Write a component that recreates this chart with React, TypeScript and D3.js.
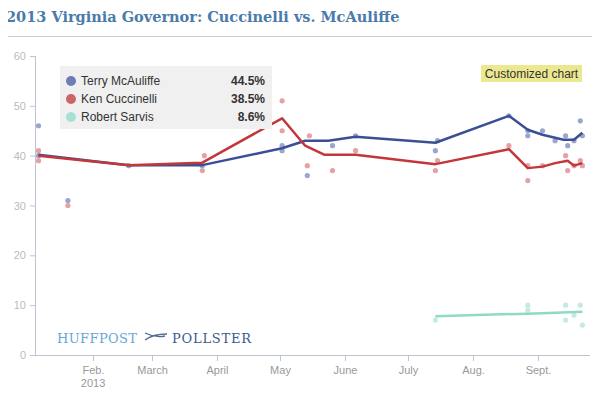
import React, { useEffect, useRef } from "react";
import * as d3 from "d3";

const candidates = ["Terry McAuliffe", "Ken Cuccinelli", "Robert Sarvis"];
const latest = ["44.5%", "38.5%", "8.6%"];
const lineColors = ["#3a4f95", "#c2373a", "#8fd9c6"];
const dotColors = ["#8f9cc8", "#e3979a", "#bde9dd"];

const yTicks = [0, 10, 20, 30, 40, 50, 60];
const monthTicks = ["2013-02-01", "2013-03-01", "2013-04-01", "2013-05-01", "2013-06-01", "2013-07-01", "2013-08-01", "2013-09-01"];
const monthLabels = ["Feb.", "March", "April", "May", "June", "July", "Aug.", "Sept."];

const mcauliffeTrend: [string, number][] = [
  ["2013-01-06", 40.2], ["2013-02-18", 38.1], ["2013-03-25", 38.1], ["2013-05-02", 41.5],
  ["2013-05-13", 43], ["2013-05-24", 43], ["2013-06-06", 43.8], ["2013-07-14", 42.6],
  ["2013-08-18", 48], ["2013-08-27", 45.2], ["2013-09-03", 44.2], ["2013-09-13", 43.2],
  ["2013-09-18", 43.2], ["2013-09-22", 44.6],
];
const cuccinelliTrend: [string, number][] = [
  ["2013-01-06", 40], ["2013-02-18", 38.1], ["2013-03-25", 38.6], ["2013-05-02", 47.5],
  ["2013-05-13", 42], ["2013-05-22", 40.2], ["2013-06-06", 40.2], ["2013-07-14", 38.3],
  ["2013-08-18", 41.3], ["2013-08-27", 37.5], ["2013-09-03", 37.8], ["2013-09-09", 38.5],
  ["2013-09-15", 39], ["2013-09-18", 38], ["2013-09-22", 38.5],
];
const sarvisTrend: [string, number][] = [
  ["2013-07-14", 7.8], ["2013-08-27", 8.3], ["2013-09-22", 8.7],
];

const mcauliffePolls: [string, number][] = [
  ["2013-01-06", 46], ["2013-01-06", 40], ["2013-01-20", 31], ["2013-02-18", 38], ["2013-03-25", 38],
  ["2013-05-02", 42], ["2013-05-02", 41], ["2013-05-14", 36], ["2013-05-26", 42], ["2013-06-06", 44],
  ["2013-07-14", 41], ["2013-07-15", 43], ["2013-08-18", 48], ["2013-08-27", 45], ["2013-08-27", 44],
  ["2013-09-03", 45], ["2013-09-09", 43], ["2013-09-14", 44], ["2013-09-15", 42], ["2013-09-18", 43],
  ["2013-09-21", 47], ["2013-09-22", 44],
];
const cuccinelliPolls: [string, number][] = [
  ["2013-01-06", 41], ["2013-01-06", 39], ["2013-01-20", 30], ["2013-03-25", 37], ["2013-03-26", 40],
  ["2013-05-02", 51], ["2013-05-02", 45], ["2013-05-14", 38], ["2013-05-15", 44], ["2013-05-26", 37],
  ["2013-06-06", 41], ["2013-07-14", 37], ["2013-07-15", 39], ["2013-08-18", 42], ["2013-08-27", 38],
  ["2013-08-27", 35], ["2013-09-03", 38], ["2013-09-14", 40], ["2013-09-15", 37], ["2013-09-18", 38],
  ["2013-09-21", 39], ["2013-09-22", 38],
];
const sarvisPolls: [string, number][] = [
  ["2013-07-14", 7], ["2013-08-27", 10], ["2013-08-27", 9], ["2013-09-14", 10], ["2013-09-14", 7],
  ["2013-09-18", 8], ["2013-09-21", 10], ["2013-09-22", 6],
];

const App: React.FC = () => {
  const svgRef = useRef<SVGSVGElement | null>(null);

  useEffect(() => {
    const svg = d3.select(svgRef.current);
    svg.selectAll("*").remove();
    const w = 600, h = 400;
    const parse = d3.timeParse("%Y-%m-%d");
    const font = "Arial, 'Liberation Sans', sans-serif";
    const serif = "Georgia, 'DejaVu Serif', serif";

    const x = d3.scaleTime()
      .domain([parse("2013-01-01")!, parse("2013-10-01")!])
      .range([28, 28 + 273 * 2.1]);
    const y = d3.scaleLinear().domain([0, 60]).range([355, 56]);

    // frame
    svg.append("rect").attr("x", 0.5).attr("y", 0.5).attr("width", w - 1).attr("height", h - 1)
      .attr("fill", "#fff").attr("stroke", "#aaa");
    svg.append("line").attr("x1", 0).attr("x2", w).attr("y1", 36.5).attr("y2", 36.5).attr("stroke", "#ccc");
    svg.append("text").attr("x", 6).attr("y", 22).attr("font-family", serif).attr("font-weight", "bold")
      .attr("font-size", 14.5).attr("fill", "#4a7bab").text("2013 Virginia Governor: Cuccinelli vs. McAuliffe");

    // y axis
    svg.append("line").attr("x1", 35.5).attr("x2", 35.5).attr("y1", y(60)).attr("y2", y(0)).attr("stroke", "#bcc4d0");
    yTicks.forEach(t => {
      svg.append("line").attr("x1", 30).attr("x2", 35).attr("y1", y(t) + 0.5).attr("y2", y(t) + 0.5).attr("stroke", "#bcc4d0");
      svg.append("text").attr("x", 26).attr("y", y(t) + 4).attr("text-anchor", "end")
        .attr("font-family", font).attr("font-size", 11).attr("fill", "#bbb").text(t);
    });

    // x axis
    svg.append("line").attr("x1", 35).attr("x2", 590).attr("y1", 355.5).attr("y2", 355.5).attr("stroke", "#bcc4d0");
    monthTicks.forEach((m, i) => {
      const px = Math.round(x(parse(m)!)) + 0.5;
      svg.append("line").attr("x1", px).attr("x2", px).attr("y1", 355).attr("y2", 361).attr("stroke", "#bcc4d0");
      svg.append("text").attr("x", px).attr("y", 374).attr("text-anchor", "middle")
        .attr("font-family", font).attr("font-size", 11).attr("fill", "#999").text(monthLabels[i]);
    });
    svg.append("text").attr("x", x(parse(monthTicks[0])!)).attr("y", 387).attr("text-anchor", "middle")
      .attr("font-family", font).attr("font-size", 11).attr("fill", "#999").text("2013");

    // logo
    svg.append("text").attr("x", 57).attr("y", 343).attr("font-family", serif)
      .attr("font-size", 13).attr("textLength", 80).attr("fill", "#6aa6d6").text("HUFFPOST");
    svg.append("path").attr("d", "M145,333 q10,5 20,3 M145,340 q8,-6 22,-6").attr("fill", "none").attr("stroke", "#4a6a90").attr("stroke-width", 1.3);
    svg.append("text").attr("x", 172).attr("y", 343).attr("font-family", serif)
      .attr("font-size", 13).attr("textLength", 79).attr("fill", "#3d5a8f").text("POLLSTER");

    const polls = [mcauliffePolls, cuccinelliPolls, sarvisPolls];
    const trends = [mcauliffeTrend, cuccinelliTrend, sarvisTrend];
    const line = d3.line<[string, number]>().x(d => x(parse(d[0])!)).y(d => y(d[1]));

    polls.forEach((p, i) => {
      svg.append("g").selectAll("circle").data(p).enter().append("circle")
        .attr("cx", d => x(parse(d[0])!)).attr("cy", d => y(d[1])).attr("r", 2.6)
        .attr("fill", dotColors[i]).attr("opacity", 0.9);
    });
    trends.forEach((t, i) => {
      svg.append("path").datum(t).attr("d", line).attr("fill", "none")
        .attr("stroke", lineColors[i]).attr("stroke-width", 2.5).attr("stroke-linejoin", "round");
    });

    // legend
    const lg = svg.append("g");
    lg.append("rect").attr("x", 60).attr("y", 66).attr("width", 212).attr("height", 63).attr("fill", "#f0f0f0");
    candidates.forEach((c, i) => {
      const cy = 81 + i * 18;
      lg.append("circle").attr("cx", 71).attr("cy", cy).attr("r", 5).attr("fill", ["#6d7db5", "#cc6666", "#a8e0d4"][i]);
      lg.append("text").attr("x", 81).attr("y", cy + 4).attr("font-family", font).attr("font-size", 12)
        .attr("fill", "#333").text(c);
      lg.append("text").attr("x", 265).attr("y", cy + 4).attr("text-anchor", "end").attr("font-family", font)
        .attr("font-size", 12).attr("font-weight", "bold").attr("fill", "#333").text(latest[i]);
    });

    svg.append("rect").attr("x", 481).attr("y", 65).attr("width", 101).attr("height", 17).attr("fill", "#ece88f");
    svg.append("text").attr("x", 531.5).attr("y", 78).attr("text-anchor", "middle").attr("font-family", font)
      .attr("font-size", 12).attr("fill", "#333").text("Customized chart");
  }, []);

  return (
    <div style={{ width: 600, height: 400, margin: -8 }}>
      <svg ref={svgRef} width={600} height={400}></svg>
    </div>
  );
};

export default App;
